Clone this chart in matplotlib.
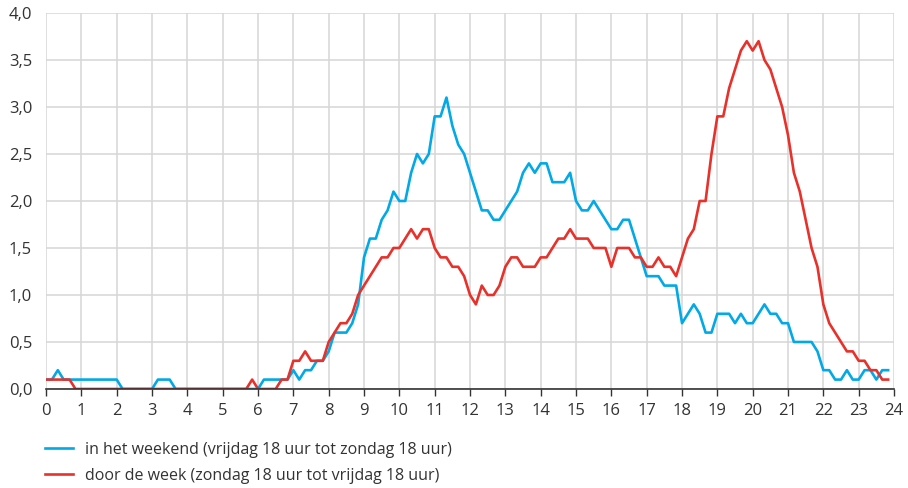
import matplotlib
matplotlib.use("Agg")
import matplotlib.pyplot as plt
import numpy as np

# 10-minute intervals from 0:00 to 23:50
hours = np.arange(144) / 6

weekend = [
    0.1, 0.1, 0.2, 0.1, 0.1, 0.1, 0.1, 0.1, 0.1, 0.1, 0.1, 0.1,
    0.1, 0.0, 0.0, 0.0, 0.0, 0.0, 0.0, 0.1, 0.1, 0.1, 0.0, 0.0,
    0.0, 0.0, 0.0, 0.0, 0.0, 0.0, 0.0, 0.0, 0.0, 0.0, 0.0, 0.0,
    0.0, 0.1, 0.1, 0.1, 0.1, 0.1, 0.2, 0.1, 0.2, 0.2, 0.3, 0.3,
    0.4, 0.6, 0.6, 0.6, 0.7, 0.9, 1.4, 1.6, 1.6, 1.8, 1.9, 2.1,
    2.0, 2.0, 2.3, 2.5, 2.4, 2.5, 2.9, 2.9, 3.1, 2.8, 2.6, 2.5,
    2.3, 2.1, 1.9, 1.9, 1.8, 1.8, 1.9, 2.0, 2.1, 2.3, 2.4, 2.3,
    2.4, 2.4, 2.2, 2.2, 2.2, 2.3, 2.0, 1.9, 1.9, 2.0, 1.9, 1.8,
    1.7, 1.7, 1.8, 1.8, 1.6, 1.4, 1.2, 1.2, 1.2, 1.1, 1.1, 1.1,
    0.7, 0.8, 0.9, 0.8, 0.6, 0.6, 0.8, 0.8, 0.8, 0.7, 0.8, 0.7,
    0.7, 0.8, 0.9, 0.8, 0.8, 0.7, 0.7, 0.5, 0.5, 0.5, 0.5, 0.4,
    0.2, 0.2, 0.1, 0.1, 0.2, 0.1, 0.1, 0.2, 0.2, 0.1, 0.2, 0.2,
]

weekdays = [
    0.1, 0.1, 0.1, 0.1, 0.1, 0.0, 0.0, 0.0, 0.0, 0.0, 0.0, 0.0,
    0.0, 0.0, 0.0, 0.0, 0.0, 0.0, 0.0, 0.0, 0.0, 0.0, 0.0, 0.0,
    0.0, 0.0, 0.0, 0.0, 0.0, 0.0, 0.0, 0.0, 0.0, 0.0, 0.0, 0.1,
    0.0, 0.0, 0.0, 0.0, 0.1, 0.1, 0.3, 0.3, 0.4, 0.3, 0.3, 0.3,
    0.5, 0.6, 0.7, 0.7, 0.8, 1.0, 1.1, 1.2, 1.3, 1.4, 1.4, 1.5,
    1.5, 1.6, 1.7, 1.6, 1.7, 1.7, 1.5, 1.4, 1.4, 1.3, 1.3, 1.2,
    1.0, 0.9, 1.1, 1.0, 1.0, 1.1, 1.3, 1.4, 1.4, 1.3, 1.3, 1.3,
    1.4, 1.4, 1.5, 1.6, 1.6, 1.7, 1.6, 1.6, 1.6, 1.5, 1.5, 1.5,
    1.3, 1.5, 1.5, 1.5, 1.4, 1.4, 1.3, 1.3, 1.4, 1.3, 1.3, 1.2,
    1.4, 1.6, 1.7, 2.0, 2.0, 2.5, 2.9, 2.9, 3.2, 3.4, 3.6, 3.7,
    3.6, 3.7, 3.5, 3.4, 3.2, 3.0, 2.7, 2.3, 2.1, 1.8, 1.5, 1.3,
    0.9, 0.7, 0.6, 0.5, 0.4, 0.4, 0.3, 0.3, 0.2, 0.2, 0.1, 0.1,
]

labels = [
    "in het weekend (vrijdag 18 uur tot zondag 18 uur)",
    "door de week (zondag 18 uur tot vrijdag 18 uur)",
]
y_ticks = [0.0, 0.5, 1.0, 1.5, 2.0, 2.5, 3.0, 3.5, 4.0]

plt.rcParams["font.family"] = ["Open Sans", "DejaVu Sans"]
text_color = "#333333"

fig = plt.figure(figsize=(9.08, 4.88), dpi=100)
ax = fig.add_axes([0.0507, 0.2029, 0.9339, 0.7705])

ax.plot(hours, weekend, color="#01a9e6", lw=1.9, label=labels[0], zorder=3)
ax.plot(hours, weekdays, color="#e8312a", lw=1.9, label=labels[1], zorder=3)

ax.set_xlim(0, 24)
ax.set_ylim(0, 4)
ax.set_xticks(range(25))
ax.set_yticks(y_ticks)
ax.set_yticklabels([f"{v:.1f}".replace(".", ",") for v in y_ticks])

ax.grid(True, color="#d6d6d6", lw=1.1)
ax.set_axisbelow(True)
for side in ["top", "right", "left"]:
    ax.spines[side].set_visible(False)
ax.spines["bottom"].set_color("#333333")
ax.spines["bottom"].set_linewidth(1.2)
ax.spines["bottom"].set_zorder(4)

ax.tick_params(axis="y", length=0, pad=10, labelsize=12, labelcolor=text_color)
ax.tick_params(axis="x", length=5, width=1, color="#333333", direction="out",
               pad=5, labelsize=12, labelcolor=text_color)

fig.legend(loc="upper left", bbox_to_anchor=(0.042, 0.108), frameon=False,
           fontsize=11.5, handlelength=1.8, handletextpad=0.75, labelspacing=0.65,
           labelcolor=text_color, borderaxespad=0)

fig.savefig("out.png", dpi=100)
